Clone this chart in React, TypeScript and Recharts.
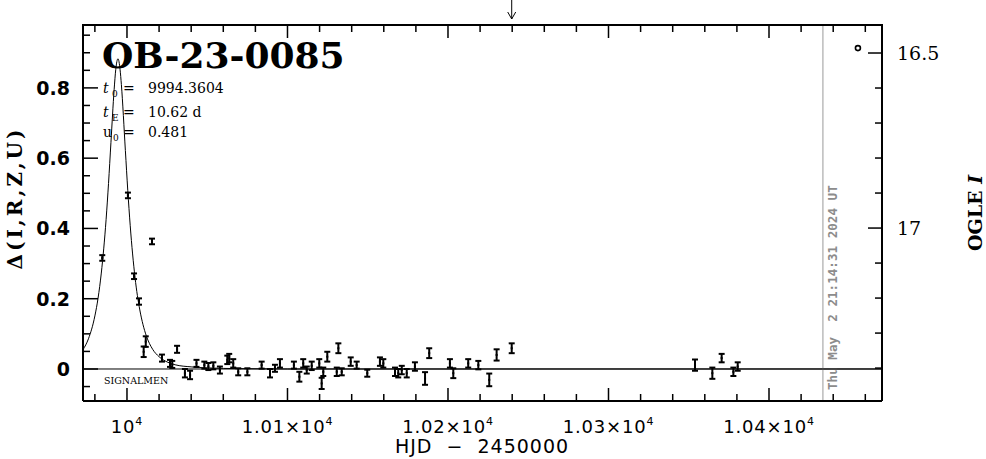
import React from 'react';
import {
  ComposedChart,
  XAxis,
  YAxis,
  Line,
  Scatter,
  ErrorBar,
  ReferenceLine,
  Customized,
} from 'recharts';

// ---------- data ----------
const obsT = [
  9984.6, 10000.6, 10004.4, 10007.5, 10010.4, 10011.7, 10015.6, 10021.8, 10026.8, 10028.2,
  10031.2, 10036.1, 10039.3, 10043.3, 10048.2, 10050.7, 10053.8, 10057.9, 10062.5, 10063.7,
  10066.2, 10069.3, 10075.0, 10083.9, 10089.1, 10092.2, 10095.3, 10104.0, 10107.4, 10109.8,
  10112.0, 10115.1, 10119.8, 10121.3, 10122.3, 10124.8, 10130.7, 10131.7, 10133.8, 10139.4,
  10143.1, 10149.7, 10157.6, 10159.7, 10167.0, 10169.0, 10171.2, 10174.3, 10179.4, 10185.7,
  10188.3, 10201.2, 10203.3, 10212.6, 10218.9, 10225.7, 10230.3, 10239.7, 10353.9, 10364.7,
  10370.5, 10377.8, 10380.5,
];
const obsD = [
  0.316, 0.494, 0.264, 0.192, 0.049, 0.078, 0.363, 0.031, 0.016, 0.013,
  0.056, -0.012, -0.017, 0.016, 0.011, 0.007, 0.009, -0.003, 0.026, 0.031,
  0.016, -0.008, -0.008, 0.011, -0.012, 0.002, 0.016, 0.011, -0.022, 0.016,
  -0.003, 0.009, 0.016, -0.041, -0.008, 0.035, -0.008, 0.059, -0.008, 0.021,
  0.011, -0.012, 0.021, 0.016, -0.008, -0.012, -0.003, -0.012, 0.007, -0.027,
  0.045, 0.016, -0.012, 0.016, 0.011, -0.031, 0.040, 0.059, 0.011, -0.012,
  0.031, -0.008, 0.007,
];
const obsErr = [
  0.008, 0.008, 0.008, 0.009, 0.015, 0.015, 0.008, 0.01, 0.01, 0.01,
  0.01, 0.012, 0.012, 0.01, 0.01, 0.01, 0.01, 0.01, 0.012, 0.012,
  0.012, 0.01, 0.01, 0.01, 0.012, 0.01, 0.012, 0.01, 0.014, 0.012,
  0.01, 0.012, 0.012, 0.016, 0.012, 0.014, 0.012, 0.014, 0.01, 0.012,
  0.01, 0.01, 0.012, 0.012, 0.012, 0.012, 0.012, 0.012, 0.012, 0.018,
  0.014, 0.012, 0.014, 0.012, 0.012, 0.018, 0.016, 0.014, 0.016, 0.016,
  0.012, 0.012, 0.012,
];

const modelT = [
  9972.6, 9976, 9980, 9982, 9984, 9987, 9988.5, 9990, 9992, 9993, 9994.4, 9995.7, 9996.5,
  9999, 10000.5, 10002, 10005, 10008, 10010, 10012, 10016, 10020, 10025, 10030, 10040,
  10050, 10070, 10100, 10470.4,
];
const modelD = [
  0.055, 0.086, 0.151, 0.202, 0.273, 0.426, 0.528, 0.644, 0.795, 0.852, 0.883, 0.852, 0.81,
  0.622, 0.508, 0.409, 0.261, 0.168, 0.126, 0.095, 0.056, 0.035, 0.02, 0.012, 0.006,
  0.003, 0.001, 0, 0,
];

const ogleT = [10455.4];
const ogleMag = [16.486];

const xDomain = [9972.6, 10470.4];
const xTicks = [
  9980, 10000, 10020, 10040, 10060, 10080, 10100, 10120, 10140, 10160, 10180, 10200, 10220,
  10240, 10260, 10280, 10300, 10320, 10340, 10360, 10380, 10400, 10420, 10440, 10460,
];
const xMajorTicks = [10000, 10100, 10200, 10300, 10400];
const xMajorMantissa = ['', '1.01', '1.02', '1.03', '1.04'];

const yDomain = [-0.0911, 0.979];
const yTicks = [
  -0.05, 0, 0.05, 0.1, 0.15, 0.2, 0.25, 0.3, 0.35, 0.4, 0.45, 0.5, 0.55, 0.6, 0.65, 0.7,
  0.75, 0.8, 0.85, 0.9, 0.95,
];
const yMajorTicks = [0, 0.2, 0.4, 0.6, 0.8];
const yMajorLabels = ['0', '0.2', '0.4', '0.6', '0.8'];

const rDomain = [16.42, 17.494];
const rTicks = [16.5, 16.6, 16.7, 16.8, 16.9, 17, 17.1, 17.2, 17.3, 17.4];
const rMajorTicks = [16.5, 17];
const rMajorLabels = ['16.5', '17'];

const eventName = 'OB-23-0085';
const paramT0 = '9994.3604';
const paramTE = '10.62 d';
const paramU0 = '0.481';
const timeStamp = 'Thu May  2 21:14:31 2024 UT';
const markerT = 10433.6;
const arrowT = 10239.7;

const obsData = obsT.map((t, i) => ({ t, d: obsD[i], err: obsErr[i] }));
const modelData = modelT.map((t, i) => ({ t, d: modelD[i] }));
const ogleData = ogleT.map((t, i) => ({ t, m: ogleMag[i] }));

// ---------- styling ----------
const SERIF = '"DejaVu Serif", "Liberation Serif", serif';
const SANS = '"DejaVu Sans", "Liberation Sans", sans-serif';
const MONO = '"DejaVu Sans Mono", "Liberation Mono", monospace';
const PLOT = { left: 83, right: 882, top: 25, bottom: 401 };

const BottomTick = (props: any) => {
  const { x, y, payload } = props;
  const mi = xMajorTicks.indexOf(payload.value);
  const len = mi >= 0 ? 13 : 7;
  const m = mi >= 0 ? xMajorMantissa[mi] : '';
  return (
    <g>
      <line x1={x} y1={y} x2={x} y2={y - len} stroke="#000" strokeWidth={1.5} />
      {mi >= 0 && (
        <text x={x} y={y + 32} textAnchor="middle" fontFamily={SANS} fontSize={18} letterSpacing={0.8} fill="#000">
          {m ? `${m}×10` : '10'}
          <tspan dy={-8} fontSize={11}>4</tspan>
        </text>
      )}
    </g>
  );
};

const TopTick = (props: any) => {
  const { x, y, payload } = props;
  const len = xMajorTicks.indexOf(payload.value) >= 0 ? 13 : 7;
  return <line x1={x} y1={y} x2={x} y2={y + len} stroke="#000" strokeWidth={1.5} />;
};

const LeftTick = (props: any) => {
  const { x, y, payload } = props;
  const mi = yMajorTicks.indexOf(payload.value);
  const len = mi >= 0 ? 15 : 7;
  return (
    <g>
      <line x1={x} y1={y} x2={x + len} y2={y} stroke="#000" strokeWidth={1.5} />
      {mi >= 0 && (
        <text x={x - 13} y={y} dy="0.36em" textAnchor="end" fontFamily={SANS} fontWeight="bold" fontSize={19} fill="#000">
          {yMajorLabels[mi]}
        </text>
      )}
    </g>
  );
};

const RightTick = (props: any) => {
  const { x, y, payload } = props;
  const mi = rMajorTicks.indexOf(payload.value);
  const len = mi >= 0 ? 14 : 7;
  return (
    <g>
      <line x1={x} y1={y} x2={x - len} y2={y} stroke="#000" strokeWidth={1.5} />
      {mi >= 0 && (
        <text x={x + 15} y={y} dy="0.36em" textAnchor="start" fontFamily={SERIF} fontSize={19} fill="#000">
          {rMajorLabels[mi]}
        </text>
      )}
    </g>
  );
};

const DotShape = (props: any) => {
  const { cx, cy } = props;
  if (cx == null || cy == null) return <g />;
  return <rect x={cx - 1} y={cy - 1} width={2} height={2} fill="#000" />;
};

const CircleShape = (props: any) => {
  const { cx, cy } = props;
  if (cx == null || cy == null) return <g />;
  return <circle cx={cx} cy={cy} r={2.5} fill="#fff" stroke="#000" strokeWidth={1.6} />;
};

const ArrowShape = (props: any) => {
  const { x1, y1, y2 } = props;
  if (x1 == null) return <g />;
  const top = Math.min(y1, y2);
  return (
    <g stroke="#000" strokeWidth={1} fill="none">
      <line x1={x1} y1={top - 25} x2={x1} y2={top - 6} />
      <polyline points={`${x1 - 4},${top - 13} ${x1},${top - 6} ${x1 + 4},${top - 13}`} />
    </g>
  );
};

const DateLabel = (props: any) => {
  const vb = props.viewBox || {};
  const x = vb.x + 14;
  const y = vb.y + vb.height - 11;
  return (
    <text
      transform={`translate(${x},${y}) rotate(-90)`}
      textAnchor="start"
      fontFamily={MONO}
      fontWeight="bold"
      fontSize={12.6}
      fill="#8c8c8c"
      style={{ whiteSpace: 'pre' }}
    >
      {timeStamp}
    </text>
  );
};

const Annotations = () => (
  <g>
    <line x1={PLOT.left - 1} y1={PLOT.top} x2={PLOT.right + 1} y2={PLOT.top} stroke="#000" strokeWidth={2} />
    <text x={102} y={68} fontFamily={SERIF} fontWeight="bold" fontSize={36} fill="#000">
      {eventName}
    </text>
    <g fontFamily={SERIF} fontSize={14} fill="#000">
      <text x={103} y={93}>
        <tspan fontStyle="italic">t</tspan>
        <tspan x={112} dy={4} fontSize={9}>0</tspan>
        <tspan x={123} dy={-4}>=</tspan>
        <tspan x={148}>{paramT0}</tspan>
      </text>
      <text x={103} y={117}>
        <tspan fontStyle="italic">t</tspan>
        <tspan x={112} dy={4} fontSize={9}>E</tspan>
        <tspan x={123} dy={-4}>=</tspan>
        <tspan x={148}>{paramTE}</tspan>
      </text>
      <text x={103} y={137}>
        <tspan>u</tspan>
        <tspan x={113} dy={4} fontSize={9}>0</tspan>
        <tspan x={123} dy={-4}>=</tspan>
        <tspan x={148}>{paramU0}</tspan>
      </text>
    </g>
    <text x={104} y={384} fontFamily={SERIF} fontSize={9.5} fill="#000">
      SIGNALMEN
    </text>
    <text
      transform="translate(15,198) rotate(-90)"
      textAnchor="middle"
      dominantBaseline="central"
      fontFamily={SERIF}
      fontWeight="bold"
      fontSize={20}
      letterSpacing={3}
      fill="#000"
    >
      Δ(I,R,Z,U)
    </text>
    <text
      transform="translate(975,213) rotate(-90)"
      textAnchor="middle"
      dominantBaseline="central"
      fontFamily={SERIF}
      fontWeight="bold"
      fontSize={19}
      fill="#000"
    >
      OGLE <tspan fontStyle="italic">I</tspan>
    </text>
    <text
      x={482}
      y={453}
      textAnchor="middle"
      fontFamily={SANS}
      fontSize={19}
      letterSpacing={1}
      fill="#000"
      style={{ whiteSpace: 'pre' }}
    >
      {'HJD  −  2450000'}
    </text>
  </g>
);

export default function App() {
  return (
    <div style={{ position: 'absolute', left: 0, top: 0, width: 986, height: 459, background: '#fff' }}>
      <ComposedChart width={986} height={459} margin={{ top: 24, right: 0, bottom: 0, left: 0 }}>
        <XAxis
          xAxisId="b"
          type="number"
          dataKey="t"
          orientation="bottom"
          domain={xDomain}
          allowDataOverflow
          ticks={xTicks}
          interval={0}
          height={58}
          tickSize={0}
          tickMargin={0}
          tickLine={false}
          tick={BottomTick}
          axisLine={{ stroke: '#000', strokeWidth: 2 }}
        />
        <XAxis
          xAxisId="t"
          type="number"
          dataKey="t"
          orientation="top"
          domain={xDomain}
          allowDataOverflow
          ticks={xTicks}
          interval={0}
          height={1}
          tickSize={0}
          tickMargin={0}
          tickLine={false}
          tick={TopTick}
          axisLine={{ stroke: '#000', strokeWidth: 2 }}
        />
        <YAxis
          yAxisId="l"
          type="number"
          orientation="left"
          domain={yDomain}
          allowDataOverflow
          ticks={yTicks}
          interval={0}
          width={83}
          tickSize={0}
          tickMargin={0}
          tickLine={false}
          tick={LeftTick}
          axisLine={{ stroke: '#000', strokeWidth: 2 }}
        />
        <YAxis
          yAxisId="r"
          type="number"
          orientation="right"
          reversed
          domain={rDomain}
          allowDataOverflow
          ticks={rTicks}
          interval={0}
          width={104}
          tickSize={0}
          tickMargin={0}
          tickLine={false}
          tick={RightTick}
          axisLine={{ stroke: '#000', strokeWidth: 2 }}
        />
        <ReferenceLine xAxisId="b" yAxisId="l" y={0} stroke="#000" strokeWidth={1} />
        <ReferenceLine
          xAxisId="b"
          yAxisId="l"
          x={markerT}
          stroke="#999"
          strokeWidth={1}
          label={DateLabel}
        />
        <ReferenceLine xAxisId="b" yAxisId="l" x={arrowT} shape={ArrowShape} />
        <Line
          xAxisId="b"
          yAxisId="l"
          data={modelData}
          dataKey="d"
          type="monotone"
          dot={false}
          stroke="#000"
          strokeWidth={1}
          isAnimationActive={false}
        />
        <Scatter
          xAxisId="b"
          yAxisId="l"
          data={obsData}
          dataKey="d"
          shape={DotShape}
          isAnimationActive={false}
        >
          <ErrorBar dataKey="err" direction="y" width={3} stroke="#000" strokeWidth={2} isAnimationActive={false} />
        </Scatter>
        <Scatter
          xAxisId="b"
          yAxisId="r"
          data={ogleData}
          dataKey="m"
          shape={CircleShape}
          isAnimationActive={false}
        />
        <Customized component={Annotations} />
      </ComposedChart>
    </div>
  );
}
